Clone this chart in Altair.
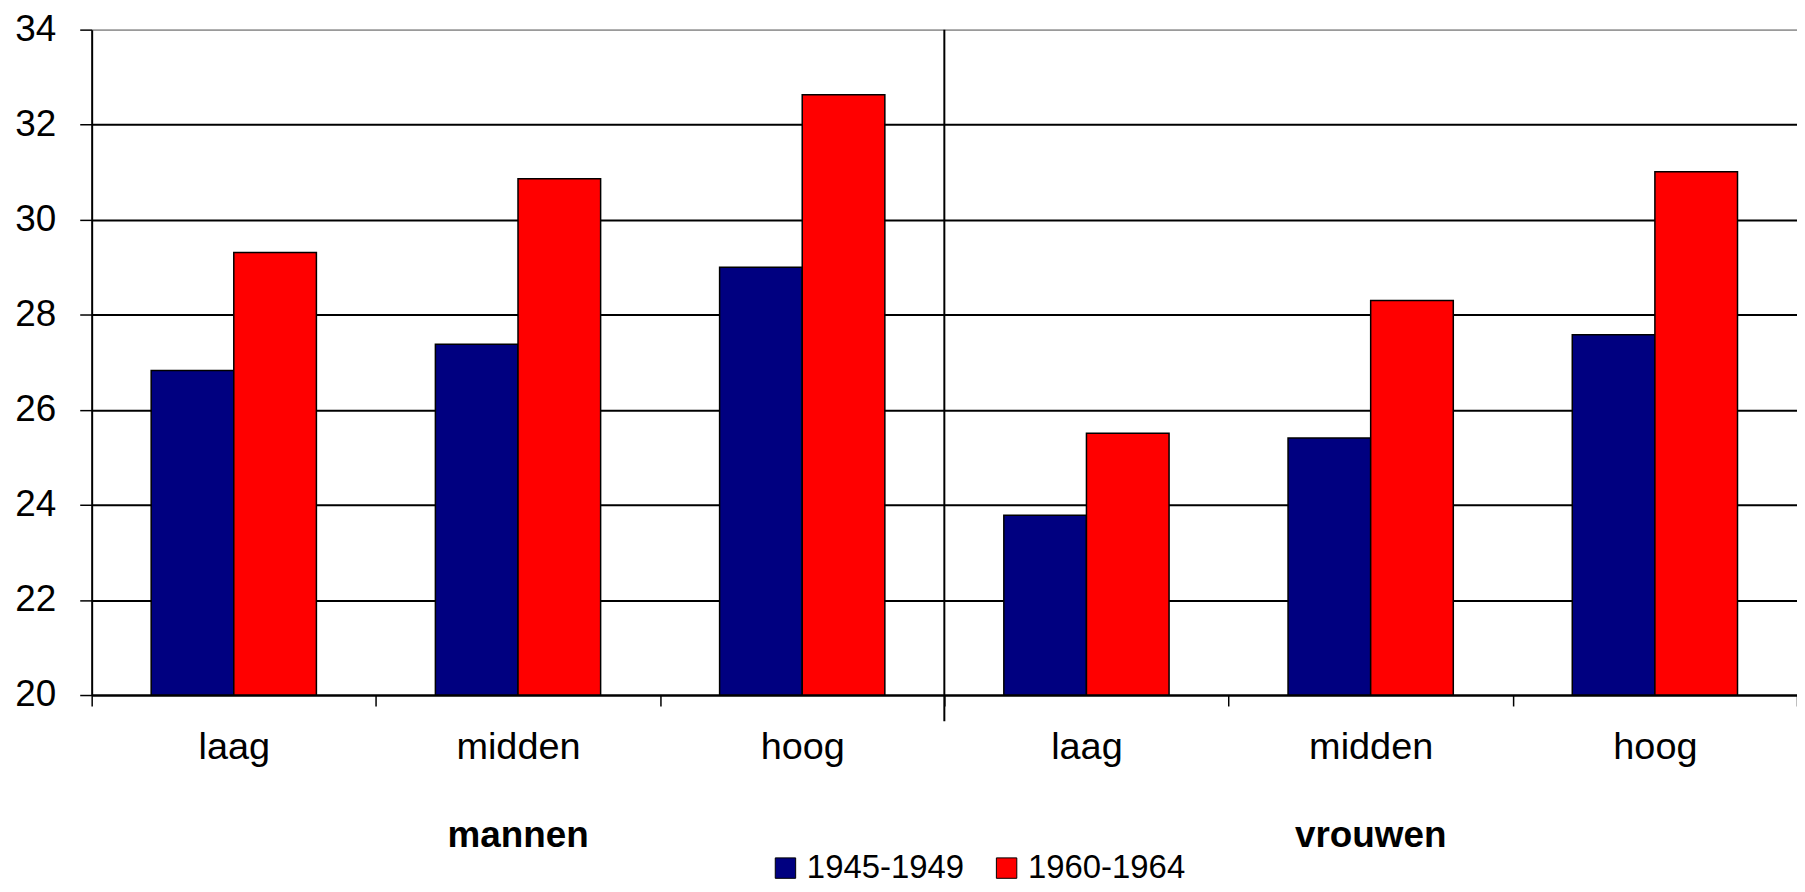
import altair as alt
import pandas as pd

# ---- data ----
groups = ["mannen", "mannen", "mannen", "vrouwen", "vrouwen", "vrouwen"]
levels = ["laag", "midden", "hoog", "laag", "midden", "hoog"]
periods = ["1945-1949", "1960-1964"]
v_1945_1949 = [26.83, 27.38, 29.0, 23.78, 25.41, 27.58]
v_1960_1964 = [29.31, 30.86, 32.63, 25.51, 28.3, 31.01]
y_ticks = [20, 22, 24, 26, 28, 30, 32, 34]
group_names = ["mannen", "vrouwen"]
group_centers = ["mannen|midden", "vrouwen|midden"]
separator_key = ["vrouwen|laag"]

keys = [f"{g}|{l}" for g, l in zip(groups, levels)]

rows = []
for k, g, l, a, b in zip(keys, groups, levels, v_1945_1949, v_1960_1964):
    rows.append({"key": k, "group": g, "level": l, "period": periods[0], "value": a})
    rows.append({"key": k, "group": g, "level": l, "period": periods[1], "value": b})
df = pd.DataFrame(rows)

grp_df = pd.DataFrame({"key": group_centers, "group": group_names})
sep_df = pd.DataFrame({"key": separator_key})

FONT = "Liberation Sans"

x_enc = alt.X(
    "key:N",
    sort=keys,
    title=None,
    scale=alt.Scale(paddingInner=0, paddingOuter=0),
    axis=alt.Axis(
        labelExpr="split(datum.label, '|')[1]",
        tickBand="extent",
        tickSize=11,
        tickWidth=1.5,
        tickColor="black",
        domainColor="black",
        domainWidth=2,
        labelFontSize=38,
        labelFont=FONT,
        labelColor="black",
        labelPadding=23,
        labelAngle=0,
        grid=False,
    ),
)

y_scale = alt.Scale(domain=[20, 34], nice=False, zero=False)

bars = alt.Chart(df).mark_bar(stroke="black", strokeWidth=1.5).encode(
    x=x_enc,
    xOffset=alt.XOffset(
        "period:N",
        sort=periods,
        scale=alt.Scale(paddingInner=0, paddingOuter=0.72),
    ),
    y=alt.Y(
        "value:Q",
        scale=y_scale,
        title=None,
        axis=alt.Axis(
            values=y_ticks,
            tickSize=12,
            tickWidth=1.5,
            tickColor="black",
            domainColor="black",
            domainWidth=2,
            labelFontSize=37,
            labelFont=FONT,
            labelColor="black",
            labelPadding=24,
            grid=True,
            gridColor={"condition": {"test": "datum.value === 34", "value": "#9a9a9a"}, "value": "black"},
            gridWidth=2,
        ),
    ),
    y2=alt.datum(20),
    color=alt.Color(
        "period:N",
        sort=periods,
        scale=alt.Scale(domain=periods, range=["#000080", "#FF0000"]),
        legend=alt.Legend(
            orient="none",
            legendX=680,
            legendY=825,
            direction="horizontal",
            title=None,
            symbolType="square",
            symbolSize=420,
            symbolStrokeColor="black",
            symbolStrokeWidth=1,
            labelFontSize=33,
            labelFont=FONT,
            labelColor="black",
            labelOffset=5,
            columnPadding=26,
        ),
    ),
)

separator = alt.Chart(sep_df).mark_rule(color="black", strokeWidth=2).encode(
    x=alt.X("key:N", bandPosition=0, sort=keys),
    y=alt.datum(34),
    y2=alt.datum(19.45),
)

group_labels = alt.Chart(grp_df).mark_text(
    fontSize=37, fontWeight="bold", font=FONT, color="black",
    align="center", baseline="alphabetic",
).encode(
    x=alt.X("key:N", sort=keys),
    y=alt.value(821),
    text="group:N",
)

chart = alt.layer(bars, separator, group_labels).properties(
    width=1712,
    height=668,
    autosize=alt.AutoSizeParams(type="none"),
    padding={"left": 84, "top": 20, "right": 0, "bottom": 188},
).configure_view(stroke=None).configure(font=FONT)

chart.save("out.html", embed_options={"renderer": "svg", "actions": False})
